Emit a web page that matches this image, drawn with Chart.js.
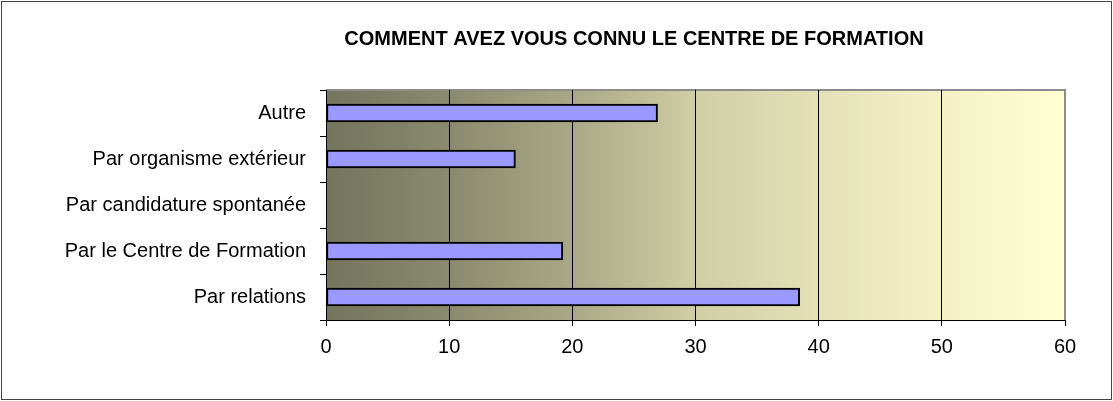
<!DOCTYPE html>
<html>
<head>
<meta charset="utf-8">
<script src="https://cdn.jsdelivr.net/npm/chart.js@4"></script>
<style>
  body { margin: 0; background: #fff; }
  #frame { position: absolute; left: 1px; top: 1px; width: 1109px; height: 397px; border: 1px solid #444; }
</style>
</head>
<body>
<div id="frame"><canvas id="myChart" width="1109" height="397"></canvas></div>
<script>
var ctx = document.getElementById('myChart').getContext('2d');

const titleText = 'COMMENT AVEZ VOUS CONNU LE CENTRE DE FORMATION';
const categories = [
  'Autre',
  'Par organisme extérieur',
  'Par candidature spontanée',
  'Par le Centre de Formation',
  'Par relations'
];
const values = [26.92, 15.38, 0, 19.23, 38.46];
const xTicks = [0, 10, 20, 30, 40, 50, 60];

const fontFamily = '"Liberation Sans", Arial, sans-serif';

// gradient background + grey top/right frame of the plot area
const plotBackground = {
  id: 'plotBackground',
  beforeDraw(chart) {
    const { ctx, chartArea: a } = chart;
    const g = ctx.createLinearGradient(a.left, 0, a.right, 0);
    g.addColorStop(0, '#75755e');
    g.addColorStop(0.167, '#8a8a6e');
    g.addColorStop(0.333, '#a9a886');
    g.addColorStop(0.5, '#d0cea5');
    g.addColorStop(0.667, '#e4e1b7');
    g.addColorStop(0.833, '#f4f2c5');
    g.addColorStop(1, '#ffffd2');
    ctx.save();
    ctx.fillStyle = g;
    ctx.fillRect(a.left, a.top, a.right - a.left, a.bottom - a.top);
    ctx.strokeStyle = '#8c8c8c';
    ctx.lineWidth = 2;
    ctx.beginPath();
    ctx.moveTo(a.left, a.top);
    ctx.lineTo(a.right, a.top);
    ctx.lineTo(a.right, a.bottom);
    ctx.stroke();
    ctx.restore();
  }
};

// the title sits off-centre in the original, so it is drawn here
const offsetTitle = {
  id: 'offsetTitle',
  afterDraw(chart, args, opts) {
    const ctx = chart.ctx;
    ctx.save();
    ctx.font = 'bold 20px ' + fontFamily;
    ctx.fillStyle = '#000';
    ctx.textAlign = 'center';
    ctx.textBaseline = 'middle';
    ctx.fillText(opts.text, opts.x, opts.y);
    ctx.restore();
  }
};

config = {
  type: 'bar',
  data: {
    labels: categories,
    datasets: [
      {
        data: values,
        backgroundColor: '#9999ff',
        borderColor: '#000000',
        borderWidth: 2,
        borderSkipped: false,
        barThickness: 18
      }
    ]
  },
  options: {
    indexAxis: 'y',
    responsive: false,
    devicePixelRatio: 1,
    animation: false,
    layout: {
      padding: { left: 0, right: 46, top: 88, bottom: 0 }
    },
    plugins: {
      legend: false,
      tooltip: { enabled: false },
      title: { display: false },
      offsetTitle: { text: titleText, x: 632, y: 37 }
    },
    scales: {
      x: {
        min: 0,
        max: 60,
        afterBuildTicks(scale) {
          scale.ticks = xTicks.map(v => ({ value: v }));
        },
        afterFit(scale) {
          scale.height = 79;
        },
        border: { display: true, color: '#000', width: 1 },
        grid: {
          color: (c) => c.tick && c.tick.value === 60 ? '#8c8c8c' : '#000',
          tickColor: '#000',
          tickLength: 6,
          lineWidth: 1
        },
        ticks: {
          color: '#000',
          padding: 9,
          font: { family: fontFamily, size: 20 }
        }
      },
      y: {
        afterFit(scale) {
          scale.width = 324;
        },
        border: { display: true, color: '#000', width: 1 },
        grid: {
          offset: true,
          drawOnChartArea: false,
          tickColor: '#000',
          tickLength: 6
        },
        ticks: {
          color: '#000',
          padding: 14,
          font: { family: fontFamily, size: 20 }
        }
      }
    }
  },
  plugins: [plotBackground, offsetTitle]
};

const chart = new Chart(ctx, config);
</script>
</body>
</html>
